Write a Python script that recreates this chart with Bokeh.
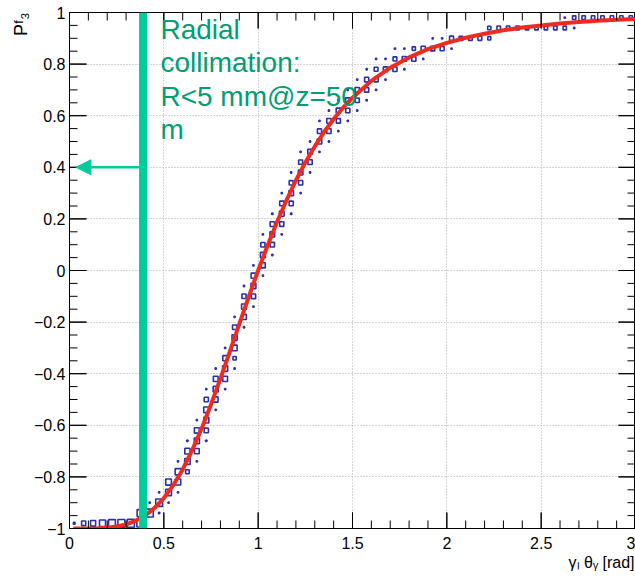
from bokeh.plotting import figure
from bokeh.models import (FixedTicker, Range1d, Span, Arrow, NormalHead, Label,
                          ColumnDataSource, Title)
from bokeh.embed import file_html
from bokeh.resources import INLINE

# ---------------- data ----------------
# red fitted curve P3(gamma*theta)
curve_x = [0.02, 0.05, 0.1, 0.15, 0.2, 0.25, 0.3, 0.35, 0.4, 0.45, 0.5, 0.55,
           0.6, 0.65, 0.7, 0.75, 0.8, 0.85, 0.9, 0.95, 1.0, 1.05, 1.1, 1.15,
           1.2, 1.25, 1.3, 1.35, 1.4, 1.45, 1.5, 1.6, 1.7, 1.8, 1.9, 2.0, 2.1,
           2.2, 2.3, 2.4, 2.5, 2.6, 2.7, 2.8, 2.9, 3.0]
curve_y = [-1.0, -1.0, -1.0, -0.999, -0.997, -0.992, -0.984, -0.970, -0.950,
           -0.921, -0.882, -0.832, -0.771, -0.697, -0.613, -0.519, -0.419,
           -0.314, -0.208, -0.102, 0.0, 0.097, 0.188, 0.272, 0.349, 0.419,
           0.481, 0.537, 0.587, 0.631, 0.670, 0.735, 0.786, 0.826, 0.858,
           0.882, 0.902, 0.918, 0.931, 0.942, 0.950, 0.957, 0.963, 0.968,
           0.972, 0.975]

# 2D histogram (box drawing): 60 x-bins of 0.05 on [0,3], 50 y-bins of 0.04 on [-1,1]
# for each x-bin: filled y-bin indices and relative box size
hist_rows = [
    [0], [0], [0], [0], [0], [0], [0],
    [0, 1], [1, 2], [1, 2, 3], [2, 3, 4], [3, 4, 5, 6], [5, 6, 7, 8],
    [6, 7, 8, 9, 10], [8, 9, 10, 11, 12, 13], [11, 12, 13, 14, 15],
    [13, 14, 15, 16, 17], [15, 16, 17, 18, 19, 20], [19, 20, 21, 22, 23],
    [21, 22, 23, 24, 25], [24, 25, 26, 27, 28], [26, 27, 28, 29, 30],
    [28, 29, 30, 31, 32], [30, 31, 32, 33, 34], [32, 33, 34, 35, 36],
    [34, 35, 36, 37], [36, 37, 38, 39], [37, 38, 39, 40], [38, 39, 40, 41],
    [39, 40, 41, 42], [40, 41, 42, 43], [41, 42, 43, 44], [42, 43, 44, 45],
    [43, 44, 45], [44, 45, 46], [44, 45, 46], [45, 46], [45, 46], [46, 47],
    [46, 47], [46, 47], [47], [47], [47], [47, 48],
    [48], [48], [48], [48], [48], [48], [48],
    [48, 49], [48, 49],
    [49], [49], [49], [49], [49], [49],
]
hist_fracs = [
    [.18], [.44], [.54], [.64], [.72], [.74], [.76],
    [.72, .66], [.76, .12], [.12, .72, .12], [.12, .62, .60],
    [.12, .58, .60, .12], [.38, .58, .55, .12],
    [.12, .50, .55, .52, .12], [.12, .45, .54, .54, .44, .12],
    [.12, .50, .54, .50, .12], [.12, .50, .54, .50, .12],
    [.12, .34, .54, .54, .44, .12], [.12, .50, .52, .44, .12],
    [.12, .46, .52, .50, .12], [.12, .50, .52, .44, .12],
    [.12, .46, .50, .46, .12], [.12, .44, .50, .44, .12],
    [.12, .44, .49, .42, .12], [.12, .44, .48, .42, .12],
    [.12, .46, .48, .12], [.12, .48, .44, .12], [.12, .46, .46, .12],
    [.12, .44, .46, .12], [.12, .44, .46, .12], [.12, .44, .46, .12],
    [.12, .44, .44, .12], [.12, .44, .40, .12],
    [.12, .46, .12], [.44, .40, .12], [.12, .46, .12], [.44, .34], [.12, .46],
    [.44, .12], [.42, .12], [.12, .42], [.40], [.40], [.40], [.32, .34],
    [.37], [.37], [.37], [.37], [.37], [.37], [.37],
    [.36, .12], [.12, .35],
    [.36], [.36], [.36], [.36], [.36], [.36],
]
x_bin_width = 0.05
y_bin_height = 0.04

x_major = [0, 0.5, 1, 1.5, 2, 2.5, 3]
x_tick_labels = ["0", "0.5", "1", "1.5", "2", "2.5", "3"]
y_major = [-1, -0.8, -0.6, -0.4, -0.2, 0, 0.2, 0.4, 0.6, 0.8, 1]
y_tick_labels = ["\u22121", "\u22120.8", "\u22120.6", "\u22120.4", "\u22120.2",
                 "0", "0.2", "0.4", "0.6", "0.8", "1"]
x_minor = [round(i / 10, 2) for i in range(31)]
y_minor = [round(-1 + i * 0.05, 2) for i in range(41)]

x_title = "\u03b3\u2097 \u03b8\u1d67 [rad]"
y_title = "P\u1da0\u2083"

cut_value = 0.39      # radial collimation cut (gamma*theta)
arrow_level = 0.4
arrow_tip = 0.034

# ---------------- build ----------------
bx, by, bw, bh = [], [], [], []
for k, (rows, fracs) in enumerate(zip(hist_rows, hist_fracs)):
    for j, f in zip(rows, fracs):
        bx.append(x_bin_width * (k + 0.5))
        by.append(-1 + y_bin_height * (j + 0.5))
        bw.append(f * x_bin_width)
        bh.append(f * y_bin_height)
src = ColumnDataSource(dict(x=bx, y=by, w=bw, h=bh))

FONT = "Liberation Sans"
GREEN_LINE = "#00CC99"
GREEN_TEXT = "#009E73"
BLUE = "#2A30A8"
RED = "#F02A1F"

W, H = 635, 582
BL, BR, BT, BB = 69, 0, 12, 54
p = figure(width=W, height=H, x_range=Range1d(0, 3), y_range=Range1d(-1, 1),
           output_backend="svg", toolbar_location=None,
           min_border_left=BL, min_border_right=BR, min_border_top=BT,
           min_border_bottom=BB)
p.background_fill_color = "white"
p.border_fill_color = "white"
p.outline_line_color = "black"
p.outline_line_width = 1

xt = FixedTicker(ticks=x_major, minor_ticks=x_minor)
yt = FixedTicker(ticks=y_major, minor_ticks=y_minor)
p.xaxis.ticker = xt
p.yaxis.ticker = yt
p.xaxis.major_label_overrides = {v: s for v, s in zip(x_major, x_tick_labels)}
p.yaxis.major_label_overrides = {v: s for v, s in zip(y_major, y_tick_labels)}

for ax in (p.xaxis, p.yaxis):
    ax.major_tick_out = 0
    ax.minor_tick_out = 0
    ax.major_tick_in = 0
    ax.minor_tick_in = 0
    ax.major_tick_line_color = None
    ax.minor_tick_line_color = None
    ax.axis_line_color = "black"
    ax.major_label_text_font = FONT
    ax.major_label_text_font_size = "16px"
    ax.major_label_text_color = "black"
p.xaxis.major_label_standoff = 8
p.yaxis.major_label_standoff = 4

# axis titles at the far ends of the axes (ROOT style)
p.add_layout(Title(text=x_title, align="right", text_font=FONT,
                   text_font_size="16px", text_font_style="normal",
                   text_color="black", offset=1, standoff=0), "below")
p.add_layout(Title(text=y_title, align="right", text_font=FONT,
                   text_font_size="18px", text_font_style="normal",
                   text_color="black", offset=0, standoff=0), "left")

p.xgrid.ticker = xt
p.ygrid.ticker = yt
for g in (p.xgrid, p.ygrid):
    g.grid_line_color = "#a8a8a8"
    g.grid_line_dash = "1 2"
    g.grid_line_width = 1

# histogram boxes
p.rect(x="x", y="y", width="w", height="h", source=src, fill_color=None,
       line_color=BLUE, line_width=1.6)

# fitted curve
p.line(curve_x, curve_y, line_color=RED, line_width=4)

# tick marks pointing into the frame on all four sides (ROOT style)
fw = W - BL - BR
fh = H - BT - BB
xs_per_px = 3.0 / fw
ys_per_px = 2.0 / fh
tx0, tx1, ty0, ty1 = [], [], [], []
for t in x_major + x_minor:
    L = (16 if t in x_major else 8) * ys_per_px
    tx0 += [t, t]; tx1 += [t, t]; ty0 += [-1, 1]; ty1 += [-1 + L, 1 - L]
for t in y_major + y_minor:
    L = (17 if t in y_major else 8) * xs_per_px
    tx0 += [0, 3]; tx1 += [L, 3 - L]; ty0 += [t, t]; ty1 += [t, t]
p.segment(tx0, ty0, tx1, ty1, line_color="black", line_width=1)

# collimation cut line and arrow
p.add_layout(Span(location=cut_value, dimension="height", line_color=GREEN_LINE,
                  line_width=8))
p.add_layout(Arrow(end=NormalHead(size=15, fill_color=GREEN_LINE,
                                  line_color=GREEN_LINE),
                   x_start=cut_value, y_start=arrow_level, x_end=arrow_tip,
                   y_end=arrow_level, line_color=GREEN_LINE, line_width=2.5))

note_lines = ["Radial", "collimation:", "R<5 mm@z=50", "m"]
note_y = [0.934, 0.807, 0.675, 0.547]
for t, yy in zip(note_lines, note_y):
    p.add_layout(Label(x=0.482, y=yy, text=t, text_font=FONT,
                       text_font_size="28px", text_color=GREEN_TEXT,
                       text_baseline="alphabetic", text_align="left"))

open("out.html", "w").write(file_html(p, INLINE))
